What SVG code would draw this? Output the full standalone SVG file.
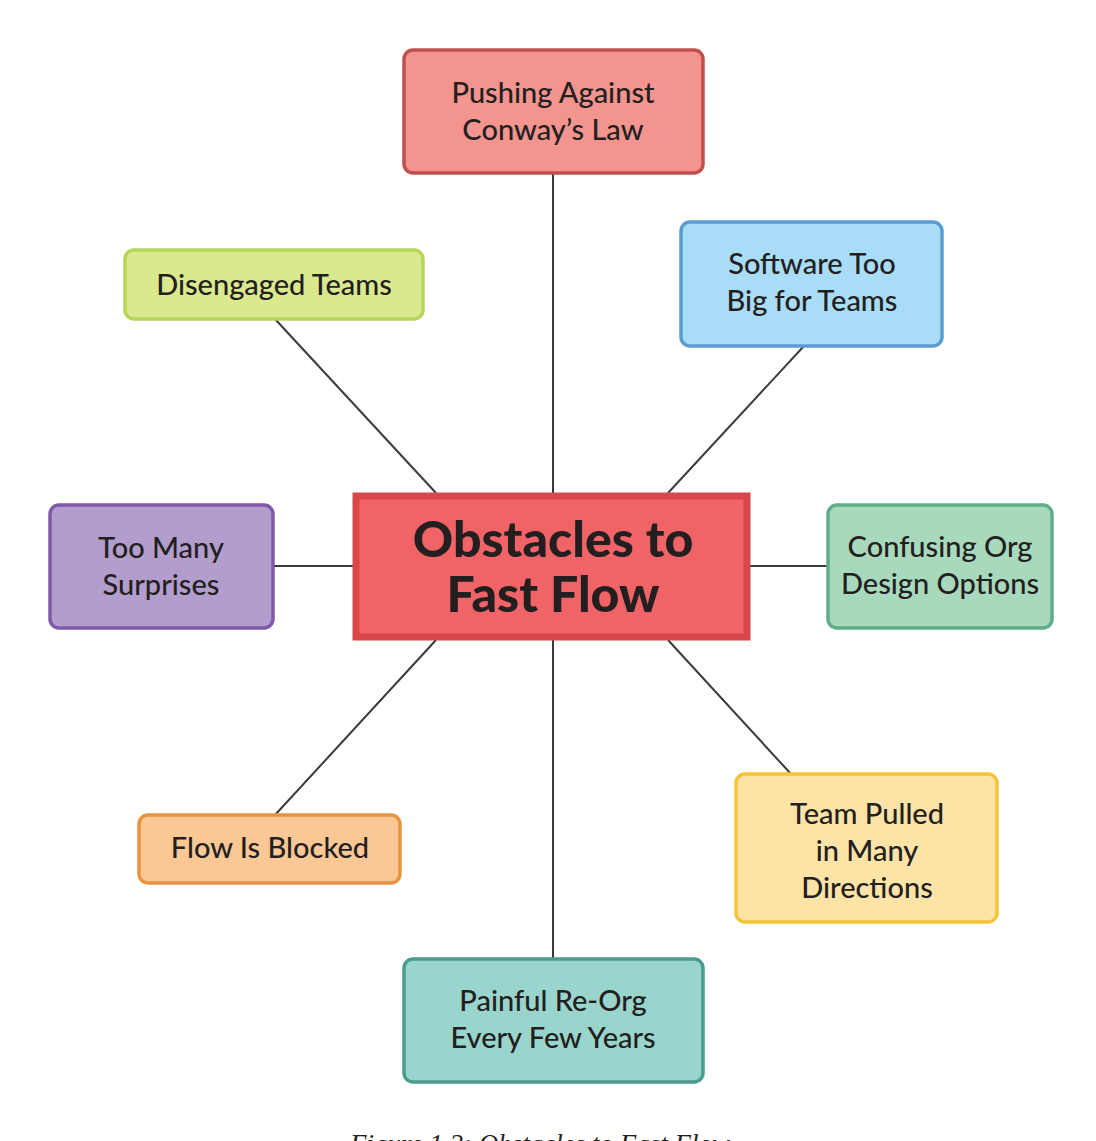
<svg xmlns="http://www.w3.org/2000/svg" width="1096" height="1141" viewBox="0 0 1096 1141">
<style>
.node rect{stroke-width:3.5}
.lbl{font-family:Lato,"Liberation Sans",sans-serif;font-size:29px;font-weight:500;fill:#231f20;text-anchor:middle}
.title{font-family:Lato,"Liberation Sans",sans-serif;font-size:50px;font-weight:900;fill:#231f20;text-anchor:middle}
.cap{font-family:"Liberation Serif",serif;font-style:italic;font-size:27px;fill:#231f20;text-anchor:middle}
#connectors line{stroke:#3a3a3a;stroke-width:2}
</style>
<rect width="1096" height="1141" fill="#ffffff"/>
<g id="connectors">
<line x1="553" y1="173" x2="553" y2="493"/>
<line x1="553" y1="640" x2="553" y2="959"/>
<line x1="275" y1="319" x2="436" y2="493"/>
<line x1="804" y1="346" x2="668" y2="493"/>
<line x1="273" y1="566" x2="353" y2="566"/>
<line x1="750" y1="566" x2="828" y2="566"/>
<line x1="275" y1="815" x2="436" y2="640"/>
<line x1="791" y1="774" x2="668" y2="640"/>
</g>
<g id="center" class="node">
<rect x="356" y="496" width="391" height="141" fill="#f06366" stroke="#d9474b" style="stroke-width:7"/>
<text class="title" x="553" y="557">Obstacles to</text>
<text class="title" x="553" y="612">Fast Flow</text>
</g>
<g id="conway" class="node">
<rect x="404" y="50" width="299" height="123" rx="9" fill="#f4948f" stroke="#c0504f"/>
<text class="lbl" x="553" y="103">Pushing Against</text>
<text class="lbl" x="553" y="140">Conway’s Law</text>
</g>
<g id="software" class="node">
<rect x="681" y="222" width="261" height="124" rx="9" fill="#a9dcf7" stroke="#5b9bcf"/>
<text class="lbl" x="812" y="274">Software Too</text>
<text class="lbl" x="812" y="311">Big for Teams</text>
</g>
<g id="disengaged" class="node">
<rect x="125" y="250" width="298" height="69" rx="9" fill="#dbe98e" stroke="#b8d45a"/>
<text class="lbl" x="274" y="295">Disengaged Teams</text>
</g>
<g id="surprises" class="node">
<rect x="50" y="505" width="223" height="123" rx="9" fill="#b39dcd" stroke="#7f5aa8"/>
<text class="lbl" x="161" y="558">Too Many</text>
<text class="lbl" x="161" y="595">Surprises</text>
</g>
<g id="confusing" class="node">
<rect x="828" y="505" width="224" height="123" rx="9" fill="#a8d9bd" stroke="#5fae87"/>
<text class="lbl" x="940" y="557">Confusing Org</text>
<text class="lbl" x="940" y="594">Design Options</text>
</g>
<g id="blocked" class="node">
<rect x="139" y="815" width="261" height="68" rx="9" fill="#fbc895" stroke="#e8943f"/>
<text class="lbl" x="270" y="858">Flow Is Blocked</text>
</g>
<g id="pulled" class="node">
<rect x="736" y="774" width="261" height="148" rx="9" fill="#fde3a6" stroke="#f6c43a"/>
<text class="lbl" x="867" y="824">Team Pulled</text>
<text class="lbl" x="867" y="861">in Many</text>
<text class="lbl" x="867" y="898">Directions</text>
</g>
<g id="reorg" class="node">
<rect x="404" y="959" width="299" height="123" rx="9" fill="#99d5cc" stroke="#4a9c90"/>
<text class="lbl" x="553" y="1011">Painful Re-Org</text>
<text class="lbl" x="553" y="1048">Every Few Years</text>
</g>
<text class="cap" x="540" y="1153">Figure 1.2: Obstacles to Fast Flow</text>
</svg>
